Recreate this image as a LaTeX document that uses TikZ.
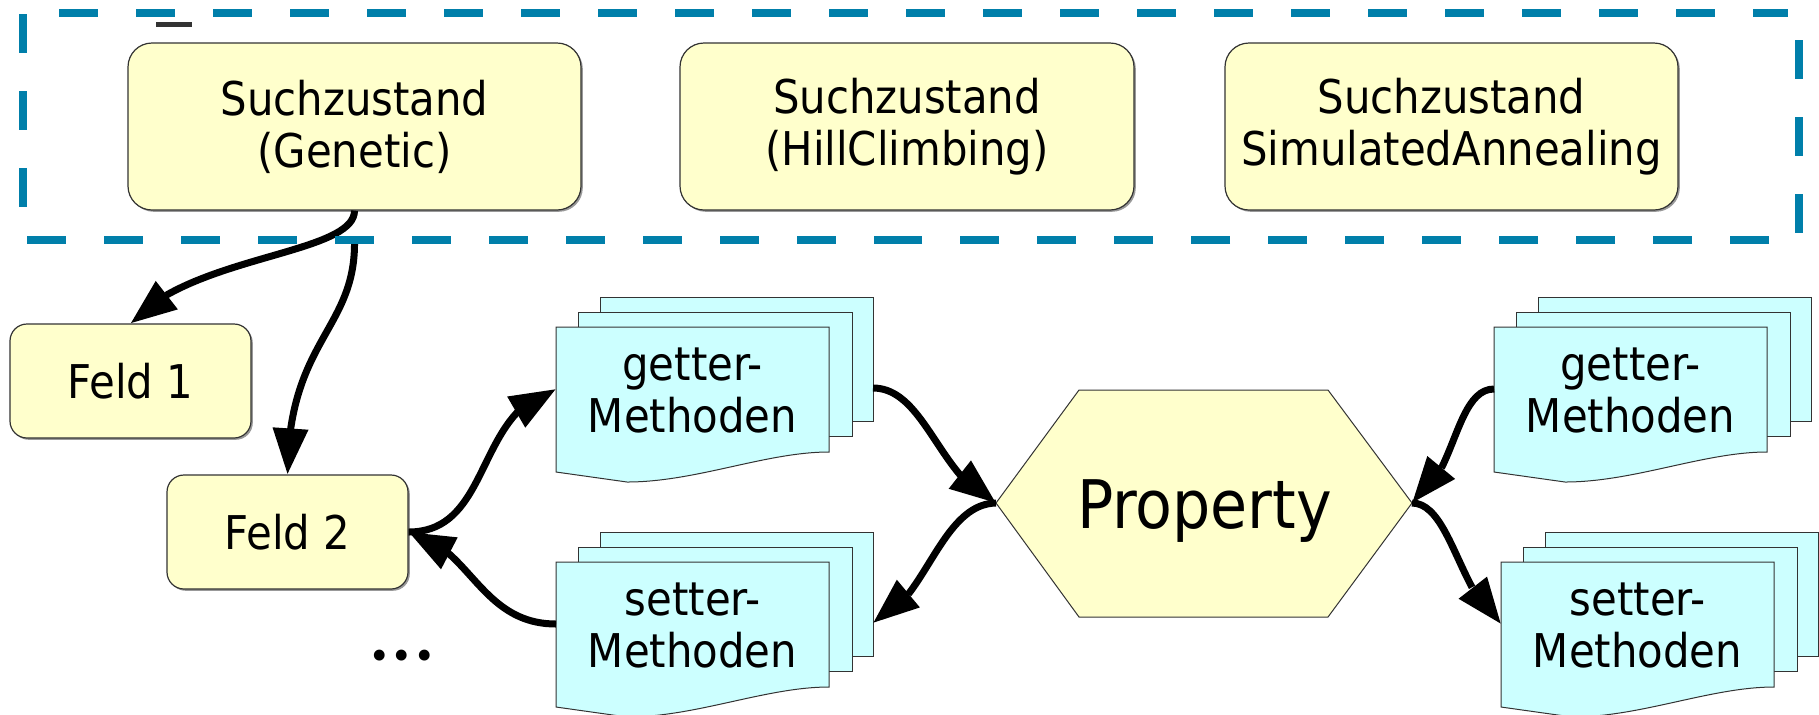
\documentclass[tikz,border=0pt]{standalone}
\usepackage{fontspec}
\setmainfont{DejaVu Sans Condensed}
\newfontfamily\dotfont{Poppins}
\usetikzlibrary{arrows.meta,bending,shadows}

\definecolor{stateyellow}{HTML}{FFFFCC}
\definecolor{doccyan}{HTML}{CCFFFF}
\definecolor{groupblue}{RGB}{0,127,170}
\definecolor{outline}{HTML}{333333}

\tikzset{
  labelfont/.style={font=\fontsize{23.25pt}{26pt}\selectfont},
  statebox/.style={draw=outline, line width=0.6pt, fill=stateyellow,
    rounded corners=12pt, inner sep=0pt, align=center, labelfont,
    minimum width=226.5pt, minimum height=83.5pt,
    drop shadow={shadow xshift=0.9pt, shadow yshift=-0.9pt, fill=gray, opacity=0.8}},
  fieldbox/.style={statebox, rounded corners=8.5pt,
    minimum width=120.5pt, minimum height=57pt},
  page/.style={draw=outline, line width=0.5pt, fill=doccyan},
  doctext/.style={inner sep=0pt, align=center, labelfont},
  hexshape/.style={draw=outline, line width=0.5pt, fill=stateyellow},
  conn/.style={draw=black, line width=3.5pt,
    -{Triangle[length=23pt,width=17pt]}},
  groupline/.style={draw=groupblue, line width=3.75pt,
    dash pattern=on 19.35pt off 19.15pt},
  pics/docstack/.style={code={
    \draw[page] (44,-30) rectangle (317,94);
    \draw[page] (22,-15) rectangle (296,109);
    \draw[page] (0,0) -- (273,0) -- (273,125)
      .. controls (210,125) and (140,155) .. (71,155) -- (0,145) -- cycle;
    \node[doctext] (-txt) at (136.5,63) {#1};
    \coordinate (-in) at (0,62);
    \coordinate (-out) at (317,61);
  }},
}

\begin{document}
\begin{tikzpicture}[x=0.5pt, y=-0.5pt]
  \fill[white] (0,0) rectangle (1819,714);
  \useasboundingbox (0,0) rectangle (1819,714);

  % search-state group
  \node[minimum width=888pt, minimum height=113.5pt, inner sep=0pt] (grp) at (911,126.5) {};
  \node[statebox] (gen)  at (354.5,126.5) {Suchzustand\\(Genetic)};
  \node[statebox, minimum width=227pt] (hill) at (907,126.5) {Suchzustand\\(HillClimbing)};
  \node[statebox] (sim)  at (1451.5,126.5) {Suchzustand\\SimulatedAnnealing};

  % fields
  \node[fieldbox] (f1) at (130.5,381) {Feld 1};
  \node[fieldbox] (f2) at (287.5,532) {Feld 2};
  \node[anchor=base, inner sep=0pt, font=\dotfont\fontsize{44pt}{46pt}\selectfont]
    (more) at (402,660) {.\kern2pt.\kern2pt.};

  % accessor method stacks
  \pic (gl) at (556,327)  {docstack={getter-\\Methoden}};
  \pic (sl) at (556,562)  {docstack={setter-\\Methoden}};
  \pic (gr) at (1494,327) {docstack={getter-\\Methoden}};
  \pic (sr) at (1501,562) {docstack={setter-\\Methoden}};

  % property hexagon
  \coordinate (pw) at (996,503);
  \coordinate (pe) at (1412,503);
  \draw[hexshape] (pw) -- (1079,390) -- (1328,390) -- (pe) -- (1328,617) -- (1079,617) -- cycle;
  \node[anchor=base, inner sep=0pt, font=\fontsize{33.5pt}{37pt}\selectfont]
    (prop) at (1204.5,528) {Property};

  % connectors
  \draw[conn] (gen.south) .. controls (354.5,255) and (190,255) .. (f1.north);
  \draw[conn] (grp.south -| gen.south) .. controls (356,330) and (288,340) .. (f2.north);
  \draw[conn] (f2.east) .. controls (492,532) and (475,410) .. (gl-in);
  \draw[conn] (sl-in) .. controls (480,624) and (470,545) .. (f2.east);
  \draw[conn] (gl-out) .. controls (925,388) and (940,480) .. (pw);
  \draw[conn] (pw) .. controls (940,504) and (925,605) .. (sl-out);
  \draw[conn] (gr-in) .. controls (1455,389) and (1455,480) .. (pe);
  \draw[conn] (pe) .. controls (1450,503) and (1460,595) .. (sr-in);

  % dashed group outline
  \draw[groupline] (59,13) -- (1788,13);
  \draw[groupline] (23,14) -- (23,207);
  \draw[groupline] (1799,40) -- (1799,233);
  \draw[groupline] (27,240) -- (910,240);
  \draw[groupline] (1769,240) -- (885,240);
  \fill[outline] (156,22) rectangle (192,27);
\end{tikzpicture}
\end{document}
